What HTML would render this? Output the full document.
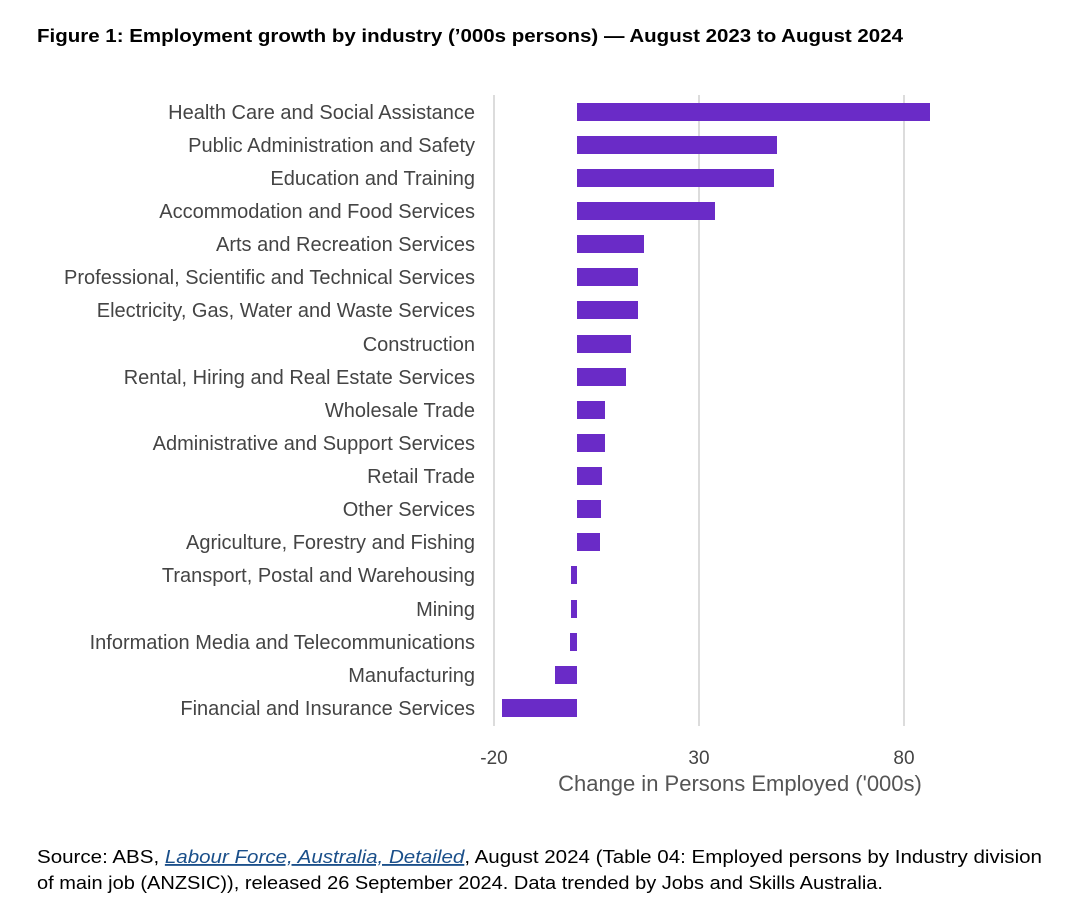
<!DOCTYPE html>
<html><head><meta charset="utf-8"><style>
body{margin:0;background:#fff;width:1080px;height:913px;overflow:hidden;font-family:"Liberation Sans",Arial,sans-serif;}
</style></head><body>
<svg width="1080" height="913" xmlns="http://www.w3.org/2000/svg" font-family="Liberation Sans, Arial, sans-serif">
<text x="37" y="42" font-size="18.5" font-weight="bold" fill="#000" textLength="866" lengthAdjust="spacingAndGlyphs">Figure 1: Employment growth by industry (’000s persons) — August 2023 to August 2024</text>
<g stroke="#d0d0d0" stroke-width="1.5">
<line x1="494" y1="95" x2="494" y2="726"/>
<line x1="699" y1="95" x2="699" y2="726"/>
<line x1="904" y1="95" x2="904" y2="726"/>
</g>
<g fill="#6a2bc7">
<rect x="577" y="103" width="353" height="18"/>
<rect x="577" y="136" width="200" height="18"/>
<rect x="577" y="169" width="197" height="18"/>
<rect x="577" y="202" width="138" height="18"/>
<rect x="577" y="235" width="67" height="18"/>
<rect x="577" y="268" width="61" height="18"/>
<rect x="577" y="301" width="61" height="18"/>
<rect x="577" y="335" width="54" height="18"/>
<rect x="577" y="368" width="49" height="18"/>
<rect x="577" y="401" width="28" height="18"/>
<rect x="577" y="434" width="28" height="18"/>
<rect x="577" y="467" width="25" height="18"/>
<rect x="577" y="500" width="24" height="18"/>
<rect x="577" y="533" width="23" height="18"/>
<rect x="571" y="566" width="6" height="18"/>
<rect x="571" y="600" width="6" height="18"/>
<rect x="570" y="633" width="7" height="18"/>
<rect x="555" y="666" width="22" height="18"/>
<rect x="502" y="699" width="75" height="18"/>
</g>
<g font-size="20" fill="#444" text-anchor="end">
<text x="475" y="119">Health Care and Social Assistance</text>
<text x="475" y="152">Public Administration and Safety</text>
<text x="475" y="185">Education and Training</text>
<text x="475" y="218">Accommodation and Food Services</text>
<text x="475" y="251">Arts and Recreation Services</text>
<text x="475" y="284">Professional, Scientific and Technical Services</text>
<text x="475" y="317">Electricity, Gas, Water and Waste Services</text>
<text x="475" y="351">Construction</text>
<text x="475" y="384">Rental, Hiring and Real Estate Services</text>
<text x="475" y="417">Wholesale Trade</text>
<text x="475" y="450">Administrative and Support Services</text>
<text x="475" y="483">Retail Trade</text>
<text x="475" y="516">Other Services</text>
<text x="475" y="549">Agriculture, Forestry and Fishing</text>
<text x="475" y="582">Transport, Postal and Warehousing</text>
<text x="475" y="616">Mining</text>
<text x="475" y="649">Information Media and Telecommunications</text>
<text x="475" y="682">Manufacturing</text>
<text x="475" y="715">Financial and Insurance Services</text>
</g>
<g font-size="19" fill="#444" text-anchor="middle">
<text x="494" y="764">-20</text>
<text x="699" y="764">30</text>
<text x="904" y="764">80</text>
</g>
<text x="740" y="791" font-size="22" fill="#555" text-anchor="middle">Change in Persons Employed ('000s)</text>
<text x="37" y="863" font-size="18.5" fill="#000" textLength="1005" lengthAdjust="spacingAndGlyphs">Source: ABS, <tspan fill="#1a4f8a" font-style="italic" text-decoration="underline">Labour Force, Australia, Detailed</tspan>, August 2024 (Table 04: Employed persons by Industry division</text>
<text x="37" y="889" font-size="18.5" fill="#000" textLength="846" lengthAdjust="spacingAndGlyphs">of main job (ANZSIC)), released 26 September 2024. Data trended by Jobs and Skills Australia.</text>
</svg>
</body></html>
